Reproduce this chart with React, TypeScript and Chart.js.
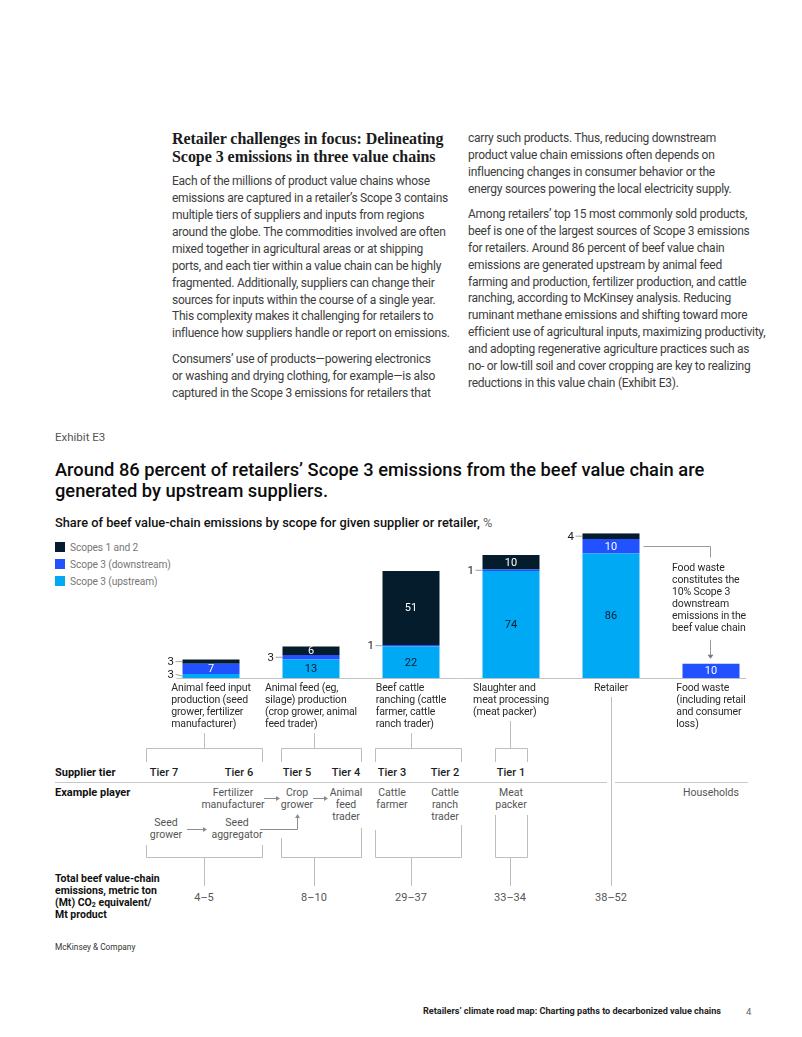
import React, { useEffect, useRef } from "react";
import { Chart, registerables } from "chart.js";
Chart.register(...registerables);

// ---------------- data ----------------
const categories: string[][] = [
  ["Animal feed input", "production (seed", "grower, fertilizer", "manufacturer)"],
  ["Animal feed (eg,", "silage) production", "(crop grower, animal", "feed trader)"],
  ["Beef cattle", "ranching (cattle", "farmer, cattle", "ranch trader)"],
  ["Slaughter and", "meat processing", "(meat packer)"],
  ["Retailer"],
  ["Food waste", "(including retail", "and consumer", "loss)"],
];
const scope3Upstream = [3, 13, 22, 74, 86, 0];
const scope3Downstream = [7, 3, 1, 1, 10, 10];
const scopes1and2 = [3, 6, 51, 10, 4, 0];
const seriesNames = ["Scope 3 (upstream)", "Scope 3 (downstream)", "Scopes 1 and 2"];
const legendOrder = ["Scopes 1 and 2", "Scope 3 (downstream)", "Scope 3 (upstream)"];
const foodWasteNote = ["Food waste", "constitutes the", "10% Scope 3", "downstream", "emissions in the", "beef value chain"];
const supplierTiers = ["Tier 7", "Tier 6", "Tier 5", "Tier 4", "Tier 3", "Tier 2", "Tier 1"];
const totalEmissions = ["4–5", "8–10", "29–37", "33–34", "38–52"];

const leftHeading = ["Retailer challenges in focus: Delineating", "Scope 3 emissions in three value chains"];
const leftPara1 = [
  "Each of the millions of product value chains whose",
  "emissions are captured in a retailer’s Scope 3 contains",
  "multiple tiers of suppliers and inputs from regions",
  "around the globe. The commodities involved are often",
  "mixed together in agricultural areas or at shipping",
  "ports, and each tier within a value chain can be highly",
  "fragmented. Additionally, suppliers can change their",
  "sources for inputs within the course of a single year.",
  "This complexity makes it challenging for retailers to",
  "influence how suppliers handle or report on emissions.",
];
const leftPara2 = [
  "Consumers’ use of products—powering electronics",
  "or washing and drying clothing, for example—is also",
  "captured in the Scope 3 emissions for retailers that",
];
const rightPara1 = [
  "carry such products. Thus, reducing downstream",
  "product value chain emissions often depends on",
  "influencing changes in consumer behavior or the",
  "energy sources powering the local electricity supply.",
];
const rightPara2 = [
  "Among retailers’ top 15 most commonly sold products,",
  "beef is one of the largest sources of Scope 3 emissions",
  "for retailers. Around 86 percent of beef value chain",
  "emissions are generated upstream by animal feed",
  "farming and production, fertilizer production, and cattle",
  "ranching, according to McKinsey analysis. Reducing",
  "ruminant methane emissions and shifting toward more",
  "efficient use of agricultural inputs, maximizing productivity,",
  "and adopting regenerative agriculture practices such as",
  "no- or low-till soil and cover cropping are key to realizing",
  "reductions in this value chain (Exhibit E3).",
];

// ---------------- styles ----------------
const S12 = "#051C2C";
const DOWN = "#2251FF";
const UP = "#00A9F4";
const SANS = "Roboto, 'Liberation Sans', sans-serif";
const SERIF = "'Liberation Serif', serif";
const colorOf: Record<string, string> = {
  "Scopes 1 and 2": S12,
  "Scope 3 (downstream)": DOWN,
  "Scope 3 (upstream)": UP,
};

function Lines(props: { x: number; top: number; lines: string[]; style: React.CSSProperties }) {
  return (
    <div style={{ position: "absolute", left: props.x, top: props.top, whiteSpace: "nowrap", ...props.style }}>
      {props.lines.map((l, i) => (
        <div key={i}>{l}</div>
      ))}
    </div>
  );
}

const bodyStyle: React.CSSProperties = {
  fontFamily: SANS,
  fontSize: 12,
  letterSpacing: -0.25,
  lineHeight: "16.9px",
  color: "#3d3d3d",
};

export default function App() {
  const ref = useRef<HTMLCanvasElement>(null);

  useEffect(() => {
    const canvas = ref.current!;
    const labelsPlugin = {
      id: "beefLabels",
      beforeDatasetsDraw(chart: any) {
        const { ctx, scales } = chart;
        const x = scales.x, y = scales.y;
        const base = Math.round(y.getPixelForValue(0)) + 0.5;
        ctx.save();
        ctx.strokeStyle = "#c4c4c4";
        ctx.lineWidth = 1;
        ctx.beginPath();
        ctx.moveTo(x.getPixelForValue(0) - 34.5, base);
        ctx.lineTo(x.getPixelForValue(categories.length - 1) + 35, base);
        ctx.stroke();
        ctx.restore();
      },
      afterDatasetsDraw(chart: any) {
        const { ctx, scales } = chart;
        const x = scales.x, y = scales.y;
        const base = y.getPixelForValue(0);
        ctx.save();
        ctx.textBaseline = "middle";
        // segment labels
        chart.data.datasets.forEach((ds: any, di: number) => {
          const meta = chart.getDatasetMeta(di);
          ds.data.forEach((v: number, j: number) => {
            if (!v) return;
            const el: any = meta.data[j];
            const cy = (el.y + el.base) / 2;
            const left = el.x - el.width / 2;
            ctx.font = `11px ${SANS}`;
            if (v >= 5) {
              ctx.textAlign = "center";
              ctx.fillStyle = di === 0 ? S12 : "#ffffff";
              ctx.fillText(String(v), el.x, cy + 0.5);
            } else {
              const ly = Math.min(cy, base - 4);
              ctx.textAlign = "right";
              ctx.fillStyle = "#1a1a1a";
              ctx.font = `11.5px ${SANS}`;
              ctx.fillText(String(v), left - 8.5, ly + 0.5);
              ctx.strokeStyle = "#8a8a8a";
              ctx.lineWidth = 0.8;
              ctx.beginPath();
              ctx.moveTo(left - 7, ly);
              ctx.lineTo(left, cy);
              ctx.stroke();
            }
          });
        });
        // category labels
        ctx.font = `10.5px ${SANS}`;
        ctx.fillStyle = "#2a2a2a";
        (ctx as any).letterSpacing = "-0.15px";
        categories.forEach((lines, j) => {
          const cx = x.getPixelForValue(j);
          const w = Math.max(...lines.map((l) => ctx.measureText(l).width));
          ctx.textAlign = "left";
          lines.forEach((l, k) => {
            ctx.fillText(l, cx - w / 2, base + 10 + 12.1 * k);
          });
        });
        // food waste note
        const m5: any = chart.getDatasetMeta(1).data[4];
        const m6: any = chart.getDatasetMeta(1).data[5];
        const cx6 = x.getPixelForValue(5);
        const w = Math.max(...foodWasteNote.map((l) => ctx.measureText(l).width));
        foodWasteNote.forEach((l, k) => {
          ctx.fillText(l, cx6 - 2 - w / 2, 568 - 525 + 12.1 * k);
        });
        const cy5 = Math.round((m5.y + m5.base) / 2) + 0.5;
        ctx.strokeStyle = "#9a9a9a";
        ctx.lineWidth = 1;
        ctx.beginPath();
        ctx.moveTo(m5.x + m5.width / 2 + 4, cy5);
        ctx.lineTo(cx6 - 0.5, cy5);
        ctx.lineTo(cx6 - 0.5, cy5 + 11);
        ctx.stroke();
        const tip = m6.y - 5;
        ctx.beginPath();
        ctx.moveTo(cx6 - 0.5, tip - 19);
        ctx.lineTo(cx6 - 0.5, tip - 3);
        ctx.stroke();
        ctx.fillStyle = "#7a7a7a";
        ctx.beginPath();
        ctx.moveTo(cx6 - 3.5, tip - 4);
        ctx.lineTo(cx6 + 2.5, tip - 4);
        ctx.lineTo(cx6 - 0.5, tip);
        ctx.closePath();
        ctx.fill();
        ctx.restore();
      },
    };

    const chart = new Chart(canvas, {
      type: "bar",
      data: {
        labels: categories,
        datasets: [
          { label: seriesNames[0], data: scope3Upstream, backgroundColor: UP },
          { label: seriesNames[1], data: scope3Downstream, backgroundColor: DOWN },
          { label: seriesNames[2], data: scopes1and2, backgroundColor: S12 },
        ].map((d) => ({ ...d, stack: "s", barPercentage: 0.57, categoryPercentage: 1, borderWidth: 0 })),
      },
      options: {
        responsive: false,
        animation: false,
        devicePixelRatio: 1,
        layout: { padding: { left: 161, right: 41, top: 8.3, bottom: 56.7 } },
        scales: {
          x: { stacked: true, display: false },
          y: { stacked: true, display: false, min: 0, max: 100 },
        },
        plugins: { legend: { display: false }, tooltip: { enabled: false } },
      },
      plugins: [labelsPlugin],
    } as any);
    return () => chart.destroy();
  }, []);

  const line = "#bdbdbd";
  const arrow = "#8c8c8c";
  const tierX = [164, 239, 297, 346, 392, 445, 511];
  const totalX = [204, 314, 411, 510, 611];
  const players: { x: number; y: number; lines: string[] }[] = [
    { x: 233, y: 792, lines: ["Fertilizer", "manufacturer"] },
    { x: 297, y: 792, lines: ["Crop", "grower"] },
    { x: 346, y: 792, lines: ["Animal", "feed", "trader"] },
    { x: 392, y: 792, lines: ["Cattle", "farmer"] },
    { x: 445, y: 792, lines: ["Cattle", "ranch", "trader"] },
    { x: 511, y: 792, lines: ["Meat", "packer"] },
    { x: 711, y: 792, lines: ["Households"] },
    { x: 166, y: 822, lines: ["Seed", "grower"] },
    { x: 237, y: 822, lines: ["Seed", "aggregator"] },
  ];

  return (
    <div style={{ position: "absolute", left: 0, top: 0, width: 802, height: 1037, background: "#fff", overflow: "hidden" }}>
      <Lines
        x={172}
        top={130}
        lines={leftHeading}
        style={{ fontFamily: SERIF, fontWeight: 700, fontSize: 16, letterSpacing: -0.05, lineHeight: "17.5px", color: "#1b1b1b" }}
      />
      <Lines x={172} top={173.2} lines={leftPara1} style={bodyStyle} />
      <Lines x={172} top={350.9} lines={leftPara2} style={bodyStyle} />
      <Lines x={468} top={129.9} lines={rightPara1} style={bodyStyle} />
      <Lines x={468} top={205.9} lines={rightPara2} style={bodyStyle} />

      <Lines x={55} top={429} lines={["Exhibit E3"]} style={{ fontFamily: SANS, fontSize: 11.5, lineHeight: "16px", color: "#555" }} />
      <Lines
        x={55}
        top={458.5}
        lines={[
          "Around 86 percent of retailers’ Scope 3 emissions from the beef value chain are",
          "generated by upstream suppliers.",
        ]}
        style={{ fontFamily: SANS, fontWeight: 500, fontSize: 18.3, lineHeight: "21px", color: "#0c0c0c" }}
      />
      <div
        style={{
          position: "absolute",
          left: 55,
          top: 515,
          whiteSpace: "nowrap",
          fontFamily: SANS,
          fontWeight: 500,
          fontSize: 12.8,
          lineHeight: "16px",
          color: "#111",
        }}
      >
        Share of beef value-chain emissions by scope for given supplier or retailer,{" "}
        <span style={{ fontWeight: 400, color: "#666" }}>%</span>
      </div>

      <svg width={802} height={1037} style={{ position: "absolute", left: 0, top: 0 }}>
        {legendOrder.map((n, i) => (
          <g key={n}>
            <rect x={55} y={542 + 17 * i} width={10} height={10} fill={colorOf[n]} />
            <text x={70} y={547.5 + 17 * i} dominantBaseline="central" fontFamily={SANS} fontSize={10.2} letterSpacing={-0.1} fill="#777">
              {n}
            </text>
          </g>
        ))}
        <g stroke={line} strokeWidth={1} fill="none">
          <path d="M204.5,733 V748.5 M146.5,762 V748.5 H262.5 V762" />
          <path d="M314.5,733 V748.5 M281.5,762 V748.5 H361.5 V762" />
          <path d="M411.5,733 V748.5 M375.5,762 V748.5 H461.5 V762" />
          <path d="M510.5,721 V748.5 M495.5,762 V748.5 H527.5 V762" />
          <path d="M611.5,697 V886" />
          <path d="M55,782.5 H607 M615,782.5 H748" stroke="#c8c8c8" />
          <path d="M146.5,845 V857.5 H262.5 V845 M204.5,857.5 V886" />
          <path d="M281.5,838 V857.5 H361.5 V828 M314.5,857.5 V886" />
          <path d="M375.5,830 V857.5 H461.5 V825 M411.5,857.5 V886" />
          <path d="M495.5,815 V857.5 H527.5 V815 M510.5,857.5 V886" />
        </g>
        <g stroke={arrow} strokeWidth={1} fill="none">
          <path d="M264,798.5 H276" />
          <path d="M313,798.5 H324" />
          <path d="M187,829.5 H203" />
          <path d="M260,829.5 H297.5 V818" />
        </g>
        <g fill={arrow}>
          <path d="M276,796 L280,798.5 L276,801 Z" />
          <path d="M324,796 L328,798.5 L324,801 Z" />
          <path d="M203,827 L207,829.5 L203,832 Z" />
          <path d="M295,818 L297.5,814 L300,818 Z" />
        </g>
        <g fontFamily={SANS} dominantBaseline="central">
          <text x={55} y={772} fontSize={11} fontWeight={700} fill="#111">Supplier tier</text>
          <text x={55} y={792} fontSize={11} fontWeight={700} fill="#111">Example player</text>
          {supplierTiers.map((t, i) => (
            <text key={t} x={tierX[i]} y={772} fontSize={11} fontWeight={500} fill="#1e1e1e" textAnchor="middle">
              {t}
            </text>
          ))}
          {players.map((p, i) =>
            p.lines.map((l, k) => (
              <text key={i + "-" + k} x={p.x} y={p.y + 12.2 * k} fontSize={10.5} fill="#555" textAnchor="middle">
                {l}
              </text>
            ))
          )}
          <text x={55} y={878} fontSize={10.5} fontWeight={700} fill="#111">Total beef value-chain</text>
          <text x={55} y={890} fontSize={10.5} fontWeight={700} fill="#111">emissions, metric ton</text>
          <text x={55} y={902} fontSize={10.5} fontWeight={700} fill="#111">
            (Mt) CO<tspan fontSize={7} dy={3}>2</tspan>
            <tspan dy={-3}> equivalent/</tspan>
          </text>
          <text x={55} y={914} fontSize={10.5} fontWeight={700} fill="#111">Mt product</text>
          {totalEmissions.map((t, i) => (
            <text key={t} x={totalX[i]} y={897} fontSize={11} fill="#555" textAnchor="middle">
              {t}
            </text>
          ))}
          <text x={55} y={947} fontSize={8.3} fill="#333">McKinsey &amp; Company</text>
          <text x={423} y={1011} fontSize={9.1} fontWeight={700} fill="#222">
            Retailers’ climate road map: Charting paths to decarbonized value chains
          </text>
          <text x={746} y={1011} fontSize={9.5} fill="#666">4</text>
        </g>
      </svg>

      <canvas
        ref={ref}
        width={802}
        height={210}
        style={{ position: "absolute", left: 0, top: 525, width: 802, height: 210 }}
      />
    </div>
  );
}
